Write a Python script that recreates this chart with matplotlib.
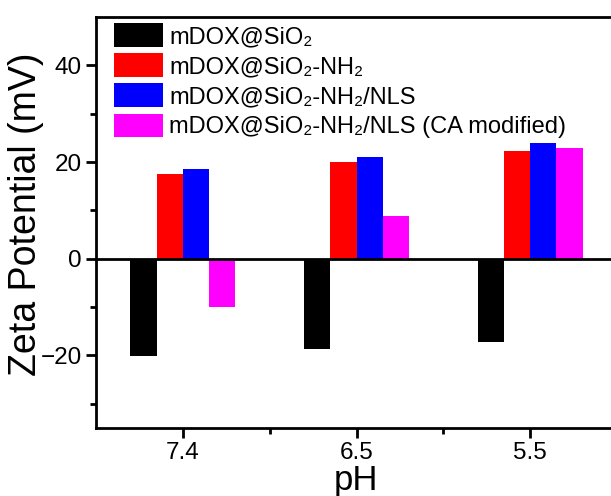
import numpy as np
import matplotlib
matplotlib.use("Agg")
import matplotlib.pyplot as plt
from matplotlib.ticker import FixedLocator

plt.rcParams['font.family'] = ['Liberation Sans', 'DejaVu Sans']

# --- data ---
ph_labels = ["7.4", "6.5", "5.5"]
series_names = [
    "mDOX@SiO\u2082",
    "mDOX@SiO\u2082-NH\u2082",
    "mDOX@SiO\u2082-NH\u2082/NLS",
    "mDOX@SiO\u2082-NH\u2082/NLS (CA modified)",
]
sio2 = [-20.2, -18.6, -17.2]
sio2_nh2 = [17.6, 20.1, 22.2]
sio2_nh2_nls = [18.6, 21.0, 23.9]
sio2_nh2_nls_ca = [-9.9, 8.8, 22.9]
colors = ["#000000", "#ff0000", "#0000ff", "#ff00ff"]

fig = plt.figure(figsize=(6.11, 4.96), dpi=100)
ax = fig.add_axes([96 / 611, 1 - 428 / 496, 521 / 611, 411 / 496])

x = np.arange(1, len(ph_labels) + 1)
w = 0.151
all_series = [sio2, sio2_nh2, sio2_nh2_nls, sio2_nh2_nls_ca]
for i, (vals, c, name) in enumerate(zip(all_series, colors, series_names)):
    ax.bar(x + (i - 1.5) * w, vals, width=w, color=c, label=name, zorder=2)

ax.axhline(0, color="black", lw=2, zorder=3)

ax.set_xlim(0.5, 3.5)
ax.set_ylim(-35, 50)
ax.set_xticks(x)
ax.set_xticklabels(ph_labels)
ax.xaxis.set_minor_locator(FixedLocator([1.5, 2.5]))
ax.set_yticks([-20, 0, 20, 40])
ax.yaxis.set_minor_locator(FixedLocator([-30, -10, 10, 30]))

ax.tick_params(which="major", direction="out", length=7, width=2, labelsize=17.5, pad=3)
ax.tick_params(which="minor", direction="out", length=4, width=2)
for s in ax.spines.values():
    s.set_linewidth(2)

ax.set_ylabel("Zeta Potential (mV)", fontsize=27)
ax.yaxis.set_label_coords(-0.1, 0.52)
ax.set_xlabel("pH", fontsize=25)
ax.xaxis.set_label_coords((356 - 96) / 521, -0.088)

ax.legend(loc="upper left", bbox_to_anchor=(0.0345, 0.985), frameon=False,
          fontsize=17, handlelength=2.08, handleheight=1.18, labelspacing=0.22,
          handletextpad=0.26, borderpad=0, borderaxespad=0)

fig.savefig("out.png", dpi=100)
